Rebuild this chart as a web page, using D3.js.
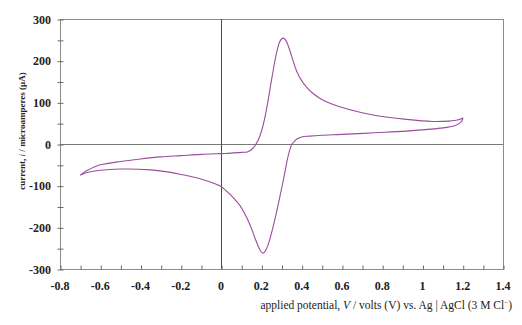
<!DOCTYPE html>
<html>
<head>
<meta charset="utf-8">
<script src="https://cdn.jsdelivr.net/npm/d3@7/dist/d3.min.js"></script>
<style>
  html, body { margin: 0; padding: 0; background: #fff; }
  svg { display: block; }
  text { font-family: "Liberation Serif", "Times New Roman", serif; fill: #222; }
</style>
</head>
<body>
<svg id="chart" width="522" height="325"></svg>
<script>
// Cyclic voltammogram: one closed scan, in acquisition order (V vs. Ag|AgCl, µA)
const potential = [
  -0.70, -0.67, -0.63, -0.60, -0.50, -0.40, -0.30, -0.20, -0.10, 0.00, 0.05, 0.10,
   0.13, 0.155, 0.17, 0.185, 0.20, 0.215, 0.23, 0.245, 0.26, 0.275, 0.29, 0.30,
   0.31, 0.32, 0.33, 0.343, 0.36, 0.376, 0.40, 0.425, 0.46, 0.50, 0.55, 0.64,
   0.76, 0.92, 1.05, 1.13, 1.18, 1.20,
   1.19, 1.16, 1.09, 0.92, 0.76, 0.60, 0.50, 0.44, 0.40, 0.38, 0.365, 0.352,
   0.34, 0.328, 0.316, 0.30, 0.285, 0.27, 0.255, 0.24, 0.225, 0.21, 0.198, 0.185,
   0.17, 0.155, 0.14, 0.12, 0.094, 0.07, 0.045, 0.02, 0.00, -0.05, -0.10, -0.19,
  -0.25, -0.35, -0.50, -0.60, -0.66, -0.70
];
const current = [
  -75, -65, -55, -50, -42, -36, -31, -28, -25, -23, -22, -20,
  -19, -12, -3, 10, 30, 58, 95, 138, 180, 218, 244, 252,
  254, 250, 240, 222, 196, 174, 152, 136, 120, 107, 96, 82,
  69, 59, 54, 55, 58, 62,
  52, 44, 38, 31, 27, 23, 21, 19, 17, 13, 7, 0,
  -16, -40, -70, -108, -142, -175, -205, -232, -252, -262, -258, -246,
  -228, -208, -190, -170, -148, -134, -121, -110, -102, -92, -84, -74,
  -68, -62, -60, -63, -68, -75
];

const xTicks = [-0.8, -0.6, -0.4, -0.2, 0, 0.2, 0.4, 0.6, 0.8, 1, 1.2, 1.4];
const yTicks = [-300, -200, -100, 0, 100, 200, 300];

const svg = d3.select("#chart");
const plot = { left: 60, right: 503, top: 19, bottom: 269 };

const x = d3.scaleLinear().domain([-0.8, 1.4]).range([plot.left, plot.right]);
const y = d3.scaleLinear().domain([-300, 300]).range([plot.bottom, plot.top]);

// plot frame
svg.append("rect")
  .attr("x", plot.left + 0.5).attr("y", plot.top + 0.5)
  .attr("width", plot.right - plot.left).attr("height", plot.bottom - plot.top)
  .attr("fill", "none").attr("stroke", "#8c8c8c").attr("stroke-width", 1);

// zero lines
svg.append("line")
  .attr("x1", plot.left).attr("x2", plot.right)
  .attr("y1", Math.round(y(0)) + 0.5).attr("y2", Math.round(y(0)) + 0.5)
  .attr("stroke", "#7a7a7a");
svg.append("line")
  .attr("x1", Math.round(x(0)) + 0.5).attr("x2", Math.round(x(0)) + 0.5)
  .attr("y1", plot.top).attr("y2", plot.bottom)
  .attr("stroke", "#4a4a4a");

// x axis: minor ticks every 0.1 pointing up, labels every 0.2
const xAxis = d3.axisBottom(x)
  .tickValues(d3.range(-8, 15).map(d => d / 10))
  .tickSizeInner(-4).tickSizeOuter(0)
  .tickFormat("");
const gx = svg.append("g")
  .attr("transform", `translate(0.5,${plot.bottom + 0.5})`)
  .call(xAxis);
gx.select(".domain").remove();
gx.selectAll(".tick line").attr("stroke", "#6a6a6a");

svg.append("g").selectAll("text")
  .data(xTicks).join("text")
  .attr("x", d => x(d))
  .attr("y", 290)
  .attr("text-anchor", "middle")
  .attr("font-size", 12).attr("font-weight", "bold")
  .text(d => String(d));

// y axis: ticks every 50 straddling the axis, labels every 100
const gy = svg.append("g")
  .attr("transform", `translate(${plot.left + 0.5},0.5)`)
  .call(d3.axisLeft(y)
    .tickValues(d3.range(-300, 301, 50))
    .tickSizeInner(3).tickSizeOuter(0)
    .tickFormat(""));
gy.select(".domain").remove();
gy.selectAll(".tick line").attr("x2", -3).attr("x1", 3).attr("stroke", "#6a6a6a");

svg.append("g").selectAll("text")
  .data(yTicks).join("text")
  .attr("x", 51)
  .attr("y", d => y(d) + 4.5)
  .attr("text-anchor", "end")
  .attr("font-size", 12).attr("font-weight", "bold")
  .text(d => String(d));

// voltammogram trace
const line = d3.line()
  .x((d, i) => x(potential[i]))
  .y((d, i) => y(current[i]))
  .curve(d3.curveCatmullRom.alpha(0.5));

svg.append("path")
  .datum(potential)
  .attr("d", line)
  .attr("fill", "none")
  .attr("stroke", "#9a4d9e")
  .attr("stroke-width", 1.1);

// axis titles
const yTitle = svg.append("text")
  .attr("transform", `translate(25,131) rotate(-90)`)
  .attr("text-anchor", "middle")
  .attr("font-size", 9).attr("font-weight", "bold");
yTitle.append("tspan").text("current, ");
yTitle.append("tspan").attr("font-style", "italic").attr("font-weight", "normal").text("i");
yTitle.append("tspan").text(" / microamperes (\u00b5A)");

const xTitle = svg.append("text")
  .attr("x", 512).attr("y", 309)
  .attr("text-anchor", "end")
  .attr("font-size", 11.5);
xTitle.append("tspan").text("applied potential, ");
xTitle.append("tspan").attr("font-style", "italic").text("V");
xTitle.append("tspan").text(" / volts (V) vs. Ag | AgCl (3 M Cl");
xTitle.append("tspan").attr("font-size", 7).attr("dy", -4).text("\u2212");
xTitle.append("tspan").attr("dy", 4).text(")");
</script>
</body>
</html>
